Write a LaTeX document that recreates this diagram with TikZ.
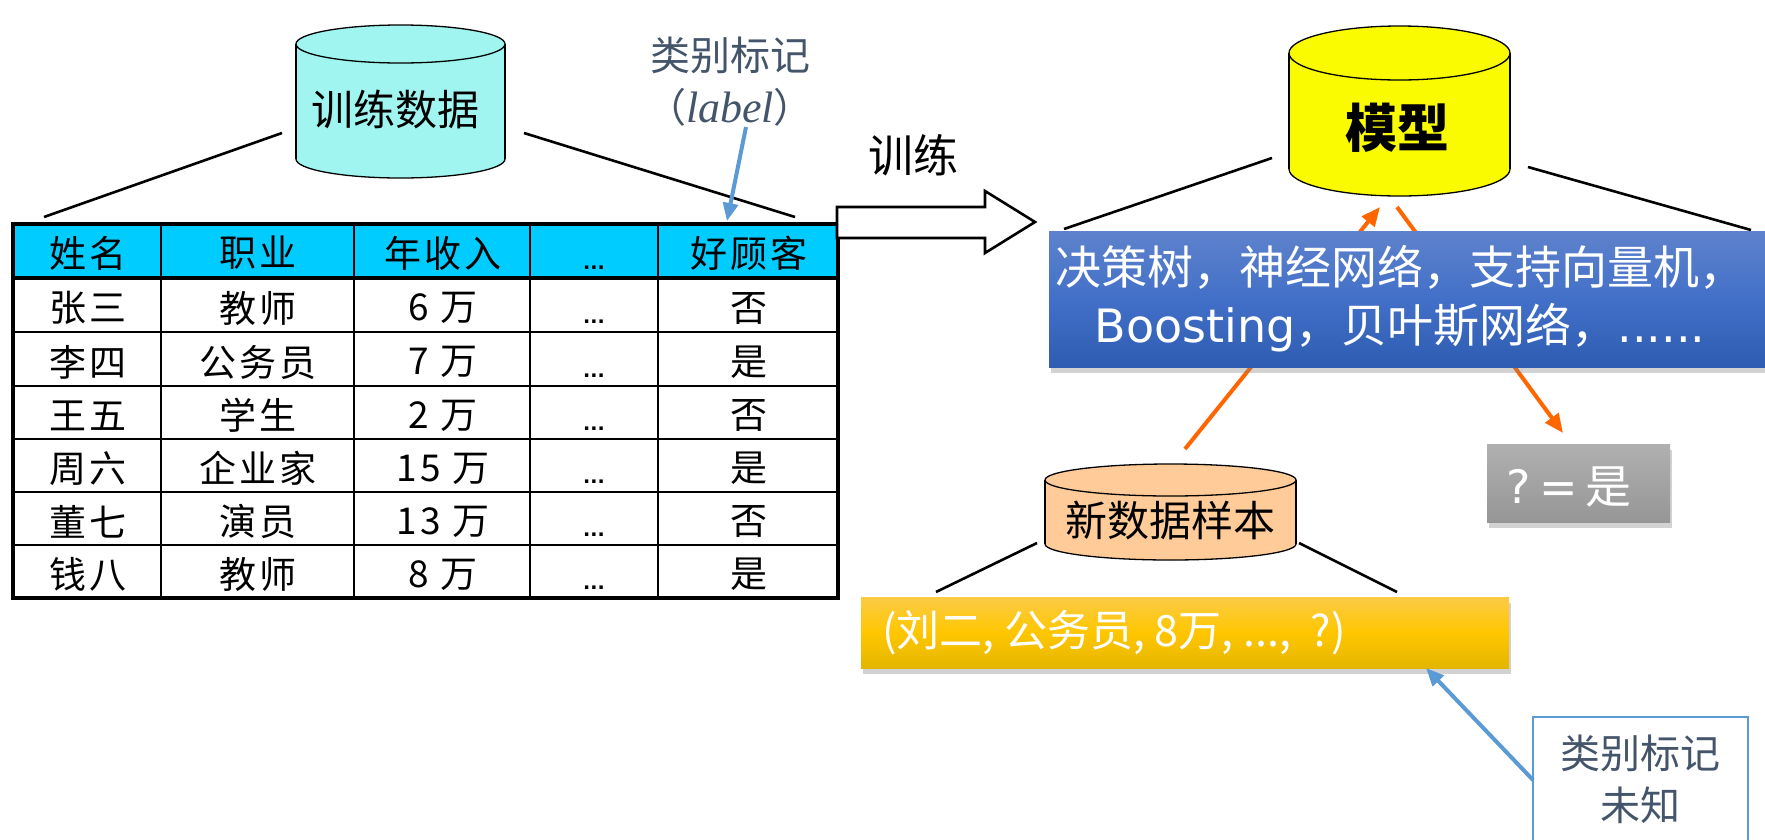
\documentclass[tikz,border=0pt]{standalone}
\usepackage{fontspec}
\setmainfont{Noto Sans CJK SC}
\newfontfamily\dejavu{DejaVu Sans}
\newfontfamily\timesf{Liberation Serif}
\newfontfamily\tabfont[LetterSpace=8]{Noto Sans CJK SC}
\usetikzlibrary{arrows.meta,shadows}
\definecolor{cylcyan}{RGB}{160,245,240}
\definecolor{hdrcyan}{RGB}{0,204,255}
\definecolor{modelyellow}{RGB}{250,250,0}
\definecolor{peach}{RGB}{255,204,153}
\definecolor{slate}{RGB}{68,84,106}
\definecolor{lblue}{RGB}{91,155,213}
\definecolor{orangeA}{RGB}{255,102,0}
\definecolor{boxtop}{RGB}{94,130,204}
\definecolor{boxmid}{RGB}{66,112,200}
\definecolor{boxbot}{RGB}{46,92,178}
\definecolor{ytop}{RGB}{251,203,69}
\definecolor{ymid}{RGB}{255,198,0}
\definecolor{ybot}{RGB}{228,182,0}
\definecolor{gtop}{RGB}{176,176,176}
\definecolor{gbot}{RGB}{150,150,150}
\newcommand\mycyl[6]{%
  \filldraw[fill=#6, line width=1.3pt] (#1,#3-#5) ellipse[x radius=#4, y radius=#5];
  \fill[#6] (#1-#4,#2+#5) rectangle (#1+#4,#3-#5);
  \draw[line width=1.3pt] (#1-#4,#2+#5) -- (#1-#4,#3-#5) (#1+#4,#2+#5) -- (#1+#4,#3-#5);
  \filldraw[fill=#6, line width=1.3pt] (#1,#2+#5) ellipse[x radius=#4, y radius=#5];
}
\tikzset{
  fan/.style={line width=2.6pt, black},
  grid/.style={line width=2.2pt},
  lbl/.style={inner sep=0pt, text=slate, font=\fontsize{40}{48}\selectfont},
  cyltext/.style={inner sep=0pt, font=\fontsize{42}{50}\selectfont},
  cell/.style={inner sep=0pt, font=\tabfont\fontsize{37}{42}\selectfont},
  dotsnode/.style={inner sep=0pt, anchor=base, font=\dejavu\bfseries\fontsize{19}{24}\selectfont},
  bluearrow/.style={line width=4pt, lblue, -{Triangle[length=18pt,width=15pt]}},
  orarrow/.style={line width=4pt, orangeA, -{Triangle[length=19pt,width=16pt]}},
  shadowed/.style={drop shadow={opacity=0.35, shadow xshift=2pt, shadow yshift=-6pt}},
  whitetext/.style={inner sep=0pt, text=white},
}
\begin{document}
\begin{tikzpicture}[x=1pt,y=-1pt,line join=miter]
\useasboundingbox (0,0) rectangle (1765,839);
\clip (0,0) rectangle (1765,839);
\fill[white] (0,0) rectangle (1765,839);

% ---------- training data cylinder ----------
\mycyl{400.5}{25}{178}{104.5}{19}{cylcyan}
\node[cyltext] (train) at (395,109) {训练数据};
\coordinate (tl1) at (44,217);  \coordinate (tl2) at (282,133);
\coordinate (tr1) at (524,133); \coordinate (tr2) at (795,217);
\draw[fan] (tl1) -- (tl2);
\draw[fan] (tr1) -- (tr2);

% ---------- label ----------
\node[lbl] (lab1) at (730,55) {类别标记};
\node[lbl] (lab2) at (730,107) {（{\timesf\itshape\fontsize{44}{48}\selectfont label}）};
\coordinate (la1) at (746,127); \coordinate (la2) at (727,221);
\draw[bluearrow] (la1) -- (la2);

% ---------- table ----------
\fill[hdrcyan] (13,224) rectangle (838,278);
\foreach \yy in {332,386,439,492,545} \draw[grid] (13,\yy) -- (838,\yy);
\foreach \xx in {161,354,530,658} \draw[grid] (\xx,224) -- (\xx,598);
\draw[line width=3.2pt] (13,278) -- (838,278);
\draw[line width=3.2pt] (13,224) rectangle (838,598);
\node[cell] (h1) at (88,253) {姓名};
\node[cell] (h2) at (258,253) {职业};
\node[cell] (h3) at (443,253) {年收入};
\node[dotsnode] (h4) at (594,269) {...};
\node[cell] (h5) at (749,253) {好顾客};
\foreach \yc/\yb/\na/\jo/\inc/\gd [count=\i] in {
   305/332/张三/教师/6 万/否,
   359/386/李四/公务员/7 万/是,
   412.5/439/王五/学生/2 万/否,
   465.5/492/周六/企业家/15 万/是,
   518.5/545/董七/演员/13 万/否,
   571.5/598/钱八/教师/8 万/是}{
  \node[cell] (n\i) at (88,\yc+3) {\na};
  \node[cell] (j\i) at (258,\yc+3) {\jo};
  \node[cell] (s\i) at (443,\yc+3) {\inc};
  \node[dotsnode] (d\i) at (594,\yb-9) {...};
  \node[cell] (g\i) at (749,\yc+3) {\gd};
}

% ---------- big arrow ----------
\draw[line width=2.6pt, fill=white] (837,207) -- (985,207) -- (985,191) -- (1035,222)
   -- (985,253) -- (985,238) -- (837,238) -- cycle;
\node[inner sep=0pt, font=\fontsize{45}{52}\selectfont] (trainlbl) at (913,155) {训练};

% ---------- model cylinder ----------
\mycyl{1399.5}{26}{196}{110.5}{27}{modelyellow}
\node[inner sep=0pt, font=\fontsize{52}{60}\selectfont\bfseries] (model) at (1397,128) {模型};
\coordinate (ml1) at (1064,229); \coordinate (ml2) at (1272,158);
\coordinate (mr1) at (1528,167); \coordinate (mr2) at (1751,230);
\draw[fan] (ml1) -- (ml2);
\draw[fan] (mr1) -- (mr2);

% ---------- orange arrows ----------
\coordinate (oa1) at (1185,449); \coordinate (oa2) at (1380,207);
\coordinate (ob1) at (1397,207); \coordinate (ob2) at (1563,433);
\draw[orarrow] (oa1) -- (oa2);
\draw[orarrow] (ob1) -- (ob2);

% ---------- algorithms panel ----------
\node[anchor=north west, minimum width=760pt, minimum height=136pt, inner sep=0pt,
      top color=boxtop, bottom color=boxbot, middle color=boxmid, shadowed] (algbox) at (1049,231) {};
\node[whitetext, align=center, font=\fontsize{46}{58}\selectfont] (algs) at (1400,299)
  {决策树，神经网络，支持向量机，\\{\dejavu Boosting}，贝叶斯网络，{\dejavu ......}};

% ---------- result box ----------
\node[anchor=north west, minimum width=183pt, minimum height=78pt, inner sep=0pt,
      top color=gtop, bottom color=gbot, shadowed] (res) at (1487,444) {};
\node[whitetext, anchor=west, font=\fontsize{46}{52}\selectfont] (restext) at (1506,487)
  {{\dejavu ?\hspace{9pt}=\hspace{7pt}}是};

% ---------- new data cylinder ----------
\mycyl{1170.5}{464}{560}{125.5}{16}{peach}
\node[cyltext] (newdata) at (1170,521) {新数据样本};
\coordinate (nl1) at (936,592);  \coordinate (nl2) at (1037,543);
\coordinate (nr1) at (1299,543); \coordinate (nr2) at (1397,592);
\draw[fan] (nl1) -- (nl2);
\draw[fan] (nr1) -- (nr2);

% ---------- sample box ----------
\node[anchor=north west, minimum width=648pt, minimum height=71pt, inner sep=0pt,
      top color=ytop, bottom color=ybot, middle color=ymid, shadowed] (sample) at (861,597) {};
\node[whitetext, anchor=west, font=\fontsize{43}{50}\selectfont] (sampletext) at (882,633)
  {(刘二, 公务员, 8万, ...,\hspace{10pt} ?)};

% ---------- unknown label box ----------
\draw[lblue, line width=2.2pt, fill=white] (1533,717) rectangle (1748,880);
\node[lbl] (unk1) at (1640,753) {类别标记};
\node[lbl] (unk2) at (1640,805) {未知};
\coordinate (ub1) at (1533,780); \coordinate (ub2) at (1426,668);
\draw[bluearrow] (ub1) -- (ub2);
\end{tikzpicture}
\end{document}
